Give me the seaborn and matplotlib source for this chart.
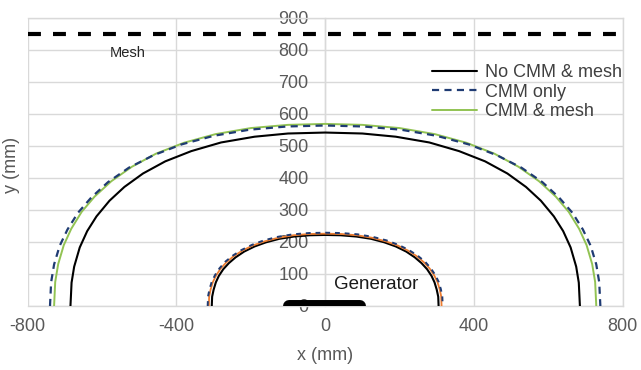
import matplotlib
matplotlib.use("Agg")
import matplotlib.pyplot as plt
import seaborn as sns
from matplotlib.lines import Line2D

# ---------------- data ----------------
x_ticks = [-800, -400, 0, 400, 800]
y_ticks = [0, 100, 200, 300, 400, 500, 600, 700, 800, 900]

# outer contours
no_cmm_x = [-685, -682, -675, -660, -640, -615, -580, -540, -490, -430, -360, -280, -190, -100, 0,
            100, 190, 280, 360, 430, 490, 540, 580, 615, 640, 660, 675, 682, 685]
no_cmm_y = [0, 73, 123, 183, 234, 280, 329, 372, 414, 452, 484, 511, 529, 539, 542,
            539, 529, 511, 484, 452, 414, 372, 329, 280, 234, 183, 123, 73, 0]

cmm_only_x = [-740, -737, -729, -714, -693, -665, -629, -584, -528, -462, -386, -299, -203, -102, 0,
              102, 203, 299, 386, 462, 528, 584, 629, 665, 693, 714, 729, 737, 740]
cmm_only_y = [0, 74, 130, 188, 239, 291, 339, 387, 432, 471, 505, 532, 551, 561, 564,
              561, 551, 532, 505, 471, 432, 387, 339, 291, 239, 188, 130, 74, 0]

cmm_mesh_x = [-729, -726, -718, -703, -683, -655, -620, -575, -520, -455, -380, -295, -200, -100, 0,
              100, 200, 295, 380, 455, 520, 575, 620, 655, 683, 703, 718, 726, 729]
cmm_mesh_y = [0, 75, 131, 190, 241, 294, 342, 390, 435, 476, 510, 537, 556, 566, 569,
              566, 556, 537, 510, 476, 435, 390, 342, 294, 241, 190, 131, 75, 0]

# inner contours
in_black_x = [-305, -304, -300, -294, -286, -274, -259, -241, -218, -190, -159, -123, -84, -42, 0,
              42, 84, 123, 159, 190, 218, 241, 259, 274, 286, 294, 300, 304, 305]
in_black_y = [0, 29, 51, 74, 94, 115, 134, 152, 170, 186, 199, 210, 217, 221, 222,
              221, 217, 210, 199, 186, 170, 152, 134, 115, 94, 74, 51, 29, 0]

in_orange_x = [-313, -312, -308, -302, -293, -281, -266, -247, -223, -195, -163, -127, -86, -43, 0,
               43, 86, 127, 163, 195, 223, 247, 266, 281, 293, 302, 308, 312, 313]
in_orange_y = [0, 30, 52, 75, 96, 117, 136, 155, 173, 189, 202, 213, 221, 225, 226,
               225, 221, 213, 202, 189, 173, 155, 136, 117, 96, 75, 52, 30, 0]

in_blue_x = [-316, -315, -311, -305, -296, -284, -269, -249, -225, -197, -165, -128, -87, -43, 0,
             43, 87, 128, 165, 197, 225, 249, 269, 284, 296, 305, 311, 315, 316]
in_blue_y = [0, 30, 53, 76, 97, 118, 138, 157, 175, 191, 205, 216, 224, 228, 229,
             228, 224, 216, 205, 191, 175, 157, 138, 118, 97, 76, 53, 30, 0]

mesh_x = [-800, 800]
mesh_y = [850, 850]

generator_x = [-96, 94]
generator_y = [0, 0]

legend_labels = ["No CMM & mesh", "CMM only", "CMM & mesh"]

# ---------------- style ----------------
sns.set_theme(style="white")
plt.rcParams["font.family"] = ["Liberation Sans", "DejaVu Sans"]
plt.rcParams["axes.unicode_minus"] = False

BLACK = "#000000"
BLUE = "#1F3B73"
GREEN = "#92C353"
ORANGE = "#ED7D31"
GRID = "#D9D9D9"
TXT = "#595959"

fig = plt.figure(figsize=(6.41, 3.70), dpi=100)
ax = fig.add_axes([0.0432, 0.173, 0.9282, 0.7784])

def draw(x, y, color, lw, ls="-", z=3):
    sns.lineplot(x=x, y=y, sort=False, estimator=None, color=color,
                 linewidth=lw, linestyle=ls, ax=ax, zorder=z)

draw(mesh_x, mesh_y, BLACK, 3.0, (0, (3.1, 2.9)))
draw(no_cmm_x, no_cmm_y, BLACK, 1.5)
draw(cmm_mesh_x, cmm_mesh_y, GREEN, 1.4)
draw(cmm_only_x, cmm_only_y, BLUE, 1.6, (0, (3.2, 2.4)))
draw(in_black_x, in_black_y, BLACK, 1.5)
draw(in_orange_x, in_orange_y, ORANGE, 1.3)
draw(in_blue_x, in_blue_y, BLUE, 1.4, (0, (2.5, 2.5)))

# generator bar
sns.lineplot(x=generator_x, y=generator_y, sort=False, estimator=None, color=BLACK,
             linewidth=8.6, ax=ax, zorder=4, solid_capstyle="round")

ax.set_xlim(-800, 800)
ax.set_ylim(0, 900)
ax.set_xticks(x_ticks)
ax.set_yticks(y_ticks)
ax.tick_params(axis="x", length=0, pad=9, labelsize=13, labelcolor=TXT)
ax.tick_params(axis="y", length=0, pad=12, labelsize=13, labelcolor=TXT)
ax.grid(True, color=GRID, linewidth=1.0)
ax.set_axisbelow(True)
for s in ax.spines.values():
    s.set_color(GRID)
    s.set_linewidth(1.0)
# value axis crosses at x = 0 (labels sit beside the centre line)
ax.spines["left"].set_position(("data", 0))

ax.set_xlabel("x (mm)", fontsize=13, color=TXT)
ax.xaxis.set_label_coords(0.5, -0.142)
ax.set_ylabel("y (mm)", fontsize=13, color=TXT)
ax.yaxis.set_label_coords(-0.013, 0.49)

ax.text(-531, 791, "Mesh", fontsize=10.5, color="#262626", ha="center", va="center")
ax.text(138, 66, "Generator", fontsize=13.5, color="#1a1a1a", ha="center", va="center")

handles = [Line2D([], [], color=BLACK, lw=1.5),
           Line2D([], [], color=BLUE, lw=1.6, linestyle=(0, (3.2, 2.4))),
           Line2D([], [], color=GREEN, lw=1.4)]
leg = ax.legend(handles, legend_labels, loc="upper left",
                bbox_to_anchor=(432 / 641, 1 - 64 / 370), bbox_transform=fig.transFigure,
                frameon=False, fontsize=13, borderpad=0, borderaxespad=0,
                handlelength=2.5, handletextpad=0.45, labelspacing=0.15)
for t in leg.get_texts():
    t.set_color("#404040")

fig.savefig("out.png", dpi=100)
